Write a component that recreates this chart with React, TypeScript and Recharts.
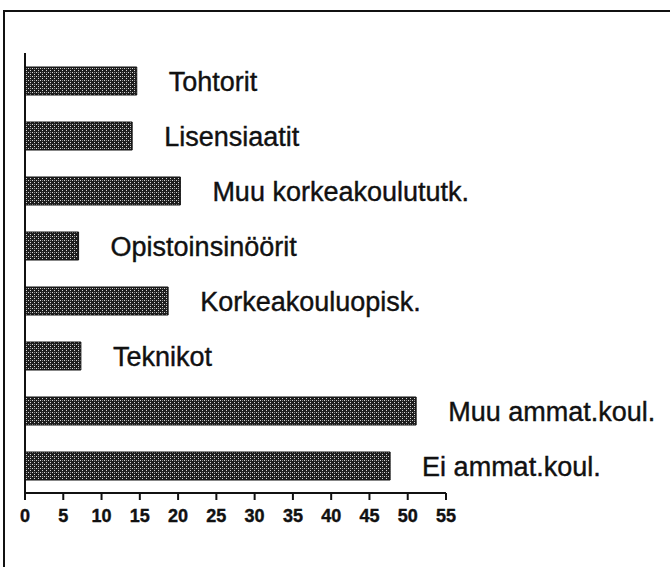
import React from 'react';
import { BarChart, Bar, XAxis, YAxis, LabelList } from 'recharts';

const categories = [
  'Tohtorit',
  'Lisensiaatit',
  'Muu korkeakoulututk.',
  'Opistoinsinöörit',
  'Korkeakouluopisk.',
  'Teknikot',
  'Muu ammat.koul.',
  'Ei ammat.koul.',
];
const values = [14.6, 14.0, 20.3, 7.0, 18.7, 7.3, 51.1, 47.7];
const xTicks = [0, 5, 10, 15, 20, 25, 30, 35, 40, 45, 50, 55];

const data = categories.map((name, i) => ({ name, value: values[i] }));

const FONT = '"Liberation Sans", Arial, Helvetica, sans-serif';

const renderLabel = (props: any) => {
  const { x, y, width, height, index } = props;
  return (
    <text
      x={Number(x) + Number(width) + 32}
      y={Number(y) + Number(height) / 2 + 10}
      fontFamily={FONT}
      fontSize={27}
      fill="#111"
      stroke="#111"
      strokeWidth={0.4}
      textAnchor="start"
    >
      {categories[index]}
    </text>
  );
};

const renderTick = (props: any) => {
  const { x, y, payload } = props;
  return (
    <text
      x={x}
      y={Number(y) + 13}
      textAnchor="middle"
      fontFamily={FONT}
      fontSize={18}
      fontWeight="bold"
      fill="#111"
      stroke="#111"
      strokeWidth={0.4}
    >
      {payload.value}
    </text>
  );
};

export default function App() {
  return (
    <div
      style={{
        position: 'absolute',
        left: 0,
        top: 0,
        width: 670,
        height: 567,
        background: '#fff',
        overflow: 'hidden',
      }}
    >
      <div
        style={{
          position: 'absolute',
          left: 3,
          top: 10,
          width: 680,
          height: 600,
          borderTop: '2px solid #111',
          borderLeft: '2px solid #111',
        }}
      />
      <div style={{ position: 'absolute', left: 0, top: 0 }}>
        <BarChart
          width={670}
          height={567}
          data={data}
          layout="vertical"
          margin={{ top: 53, right: 224, bottom: 44, left: 23 }}
          barSize={28}
        >
          <defs>
            <pattern id="stipple" width="4" height="4" patternUnits="userSpaceOnUse">
              <rect width="4" height="4" fill="#1e1e1e" />
              <rect x="0" y="0" width="1" height="1" fill="#d8d8d8" />
              <rect x="2" y="2" width="1" height="1" fill="#d8d8d8" />
              <rect x="2" y="0" width="1" height="1" fill="#8a8a8a" />
            </pattern>
          </defs>
          <XAxis
            type="number"
            domain={[0, 55]}
            ticks={xTicks}
            interval={0}
            height={30}
            axisLine={{ stroke: '#111', strokeWidth: 2 }}
            tickLine={{ stroke: '#111', strokeWidth: 2 }}
            tickSize={7}
            tickMargin={9}
            tick={renderTick}
          />
          <YAxis
            type="category"
            dataKey="name"
            width={2}
            tick={false}
            tickLine={false}
            axisLine={{ stroke: '#111', strokeWidth: 2 }}
          />
          <Bar
            dataKey="value"
            fill="url(#stipple)"
            stroke="#111"
            strokeWidth={1}
            isAnimationActive={false}
          >
            <LabelList dataKey="value" content={renderLabel} />
          </Bar>
        </BarChart>
      </div>
    </div>
  );
}
